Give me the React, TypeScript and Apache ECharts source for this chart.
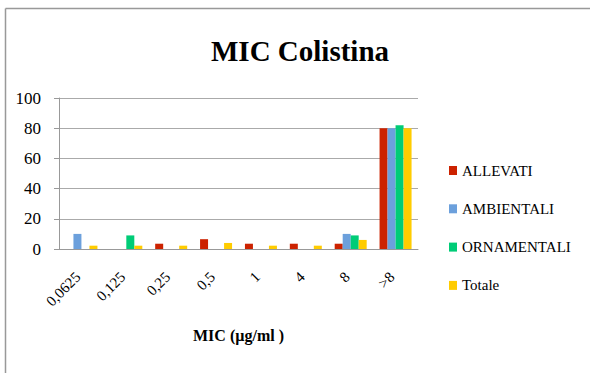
import React, { useEffect, useRef } from "react";
import * as echarts from "echarts";

// MIC breakpoints (µg/ml)
const categories = ["0,0625", "0,125", "0,25", "0,5", "1", "4", "8", ">8"];

// Percentage of isolates per MIC value, by source
const allevati = [0, 0, 3.5, 6.5, 3.5, 3.5, 3.5, 80];
const ambientali = [10, 0, 0, 0, 0, 0, 10, 80];
const ornamentali = [0, 9, 0, 0, 0, 0, 9, 82];
const totale = [2.2, 2.2, 2.2, 4, 2.2, 2.2, 6, 80];

const yTicks = [0, 20, 40, 60, 80, 100];

const seriesDefs = [
  { name: "ALLEVATI", data: allevati, color: "#CC2200" },
  { name: "AMBIENTALI", data: ambientali, color: "#6CA0DC" },
  { name: "ORNAMENTALI", data: ornamentali, color: "#00CC77" },
  { name: "Totale", data: totale, color: "#FFCC00" },
];

const FONT = "Liberation Serif";

export default function App() {
  const ref = useRef<HTMLDivElement>(null);

  useEffect(() => {
    if (!ref.current) return;
    const chart = echarts.init(ref.current, null, { renderer: "svg" });
    chart.setOption({
      animation: false,
      backgroundColor: "#ffffff",
      textStyle: { fontFamily: FONT },
      title: {
        text: "MIC Colistina",
        left: 295,
        top: 31,
        textAlign: "center",
        textStyle: {
          fontFamily: FONT,
          fontWeight: "bold",
          fontSize: 29,
          color: "#000",
        },
      },
      legend: {
        orient: "vertical",
        left: 444,
        top: 158,
        itemWidth: 8,
        itemHeight: 9,
        itemGap: 23.3,
        icon: "rect",
        textStyle: { fontFamily: FONT, fontSize: 15, color: "#000" },
        data: seriesDefs.map((s) => s.name),
      },
      graphic: [
        {
          type: "line",
          shape: { x1: 5.5, y1: 8.5, x2: 590, y2: 8.5 },
          style: { stroke: "#999", lineWidth: 1.5 },
        },
        {
          type: "line",
          shape: { x1: 5.5, y1: 8.5, x2: 5.5, y2: 373 },
          style: { stroke: "#999", lineWidth: 1.5 },
        },
      ],
      grid: { left: 59, right: 172, top: 98, bottom: 124 },
      xAxis: {
        type: "category",
        data: categories,
        name: "MIC (µg/ml )",
        nameLocation: "middle",
        nameGap: 78,
        nameTextStyle: { fontFamily: FONT, fontWeight: "bold", fontSize: 16, color: "#000" },
        axisLine: { lineStyle: { color: "#999" } },
        axisTick: { show: false },
        axisLabel: {
          rotate: 45,
          margin: 22,
          padding: [0, 5, 0, 0],
          interval: 0,
          fontFamily: FONT,
          fontSize: 15,
          color: "#000",
        },
      },
      yAxis: {
        type: "value",
        min: yTicks[0],
        max: yTicks[yTicks.length - 1],
        interval: 20,
        axisLine: { show: true, lineStyle: { color: "#999" } },
        axisTick: { show: true, length: 5, lineStyle: { color: "#999" } },
        splitLine: { lineStyle: { color: "#aaa" } },
        axisLabel: { fontFamily: FONT, fontSize: 17, color: "#000", margin: 18 },
      },
      series: seriesDefs.map((s) => ({
        name: s.name,
        type: "bar",
        data: s.data,
        barWidth: 8,
        barGap: "0%",
        itemStyle: { color: s.color },
      })),
    });
    return () => chart.dispose();
  }, []);

  return (
    <div
      ref={ref}
      style={{ position: "fixed", left: 0, top: 0, width: 590, height: 373 }}
    />
  );
}
